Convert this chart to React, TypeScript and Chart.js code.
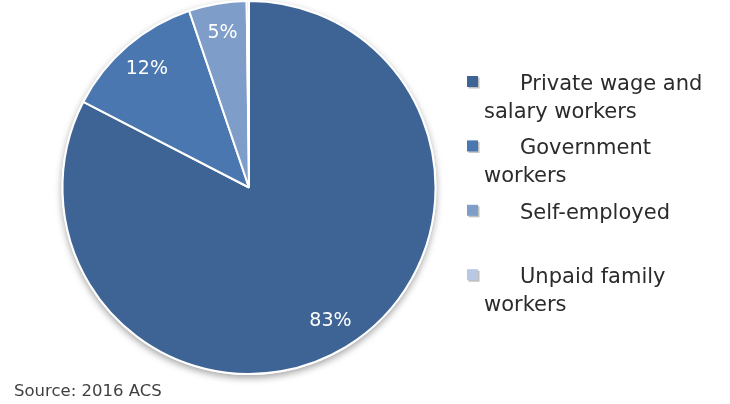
import React, { useEffect, useRef } from "react";
import { Chart, registerables } from "chart.js";

Chart.register(...registerables);

const categories = [
  "Private wage and salary workers",
  "Government workers",
  "Self-employed",
  "Unpaid family workers",
];
const shares = [82.6, 12.2, 5.0, 0.2];
const colors = ["#3D6494", "#4A77AF", "#7E9DC9", "#B8C8E2"];
const sourceNote = "Source: 2016 ACS";

const FONT = '"DejaVu Sans", sans-serif';

const shadowPlugin = {
  id: "pieShadow",
  beforeDatasetsDraw(chart: any) {
    const meta = chart.getDatasetMeta(0);
    const arc = meta.data[0];
    if (!arc) return;
    const { x, y, outerRadius } = arc.getProps(["x", "y", "outerRadius"], true);
    const ctx = chart.ctx;
    ctx.save();
    ctx.beginPath();
    ctx.arc(x, y, outerRadius + 1, 0, Math.PI * 2);
    ctx.fillStyle = "#ffffff";
    ctx.shadowColor = "rgba(0,0,0,0.35)";
    ctx.shadowBlur = 7;
    ctx.shadowOffsetY = 3;
    ctx.fill();
    ctx.restore();
  },
};

const labelPlugin = {
  id: "pieLabels",
  afterDatasetsDraw(chart: any) {
    const meta = chart.getDatasetMeta(0);
    const ctx = chart.ctx;
    ctx.save();
    ctx.font = `19px ${FONT}`;
    ctx.fillStyle = "#ffffff";
    ctx.textAlign = "center";
    ctx.textBaseline = "middle";
    meta.data.forEach((el: any, i: number) => {
      const v = shares[i];
      if (v < 1) return;
      const { x, y, startAngle, endAngle, outerRadius } = el.getProps(
        ["x", "y", "startAngle", "endAngle", "outerRadius"],
        true
      );
      const mid = (startAngle + endAngle) / 2;
      const r = outerRadius * 0.84;
      ctx.fillText(`${Math.round(v)}%`, x + Math.cos(mid) * r, y + Math.sin(mid) * r);
    });
    ctx.restore();
  },
};

const legendPlugin = {
  id: "sideLegend",
  afterDraw(chart: any) {
    const ctx = chart.ctx;
    ctx.save();
    ctx.font = `21px ${FONT}`;
    ctx.textBaseline = "alphabetic";
    ctx.textAlign = "left";
    const boxX = 467;
    const firstX = 520;
    const contX = 484;
    const top = 90;
    const itemGap = 64.4;
    const lineH = 27.5;
    const maxFirst = 200;
    categories.forEach((label, i) => {
      const words = label.split(" ");
      const lines: string[] = [];
      let cur = "";
      let limit = maxFirst;
      words.forEach((w) => {
        const test = cur ? cur + " " + w : w;
        if (cur && ctx.measureText(test).width > limit) {
          lines.push(cur);
          cur = w;
          limit = 730 - contX - 10;
        } else cur = test;
      });
      if (cur) lines.push(cur);
      const base = top + i * itemGap;
      ctx.fillStyle = "rgba(0,0,0,0.25)";
      ctx.fillRect(boxX + 1.5, base - 12.5, 11, 11);
      ctx.fillStyle = colors[i];
      ctx.fillRect(boxX, base - 14, 11, 11);
      ctx.fillStyle = "#2b2b2b";
      lines.forEach((ln, j) => {
        ctx.fillText(ln, j === 0 ? firstX : contX, base + j * lineH);
      });
    });
    ctx.font = `16.5px ${FONT}`;
    ctx.fillStyle = "#404040";
    ctx.fillText(sourceNote, 14, 396);
    ctx.restore();
  },
};

export default function App() {
  const ref = useRef<HTMLCanvasElement | null>(null);
  useEffect(() => {
    if (!ref.current) return;
    const chart = new Chart(ref.current, {
      type: "pie",
      data: {
        labels: categories,
        datasets: [
          {
            data: shares,
            backgroundColor: colors,
            borderColor: "#ffffff",
            borderWidth: 2,
            hoverOffset: 0,
            offset: 0,
          } as any,
        ],
      },
      options: {
        animation: false,
        responsive: false,
        events: [],
        layout: { padding: { left: 60, right: 292, top: -1, bottom: 29 } },
        plugins: {
          legend: { display: false },
          tooltip: { enabled: false },
        },
      },
      plugins: [shadowPlugin, labelPlugin, legendPlugin],
    });
    return () => chart.destroy();
  }, []);
  return (
    <div style={{ position: "fixed", left: 0, top: 0, width: 730, height: 404, background: "#fff" }}>
      <canvas ref={ref} width={730} height={404} style={{ display: "block" }} />
    </div>
  );
}
